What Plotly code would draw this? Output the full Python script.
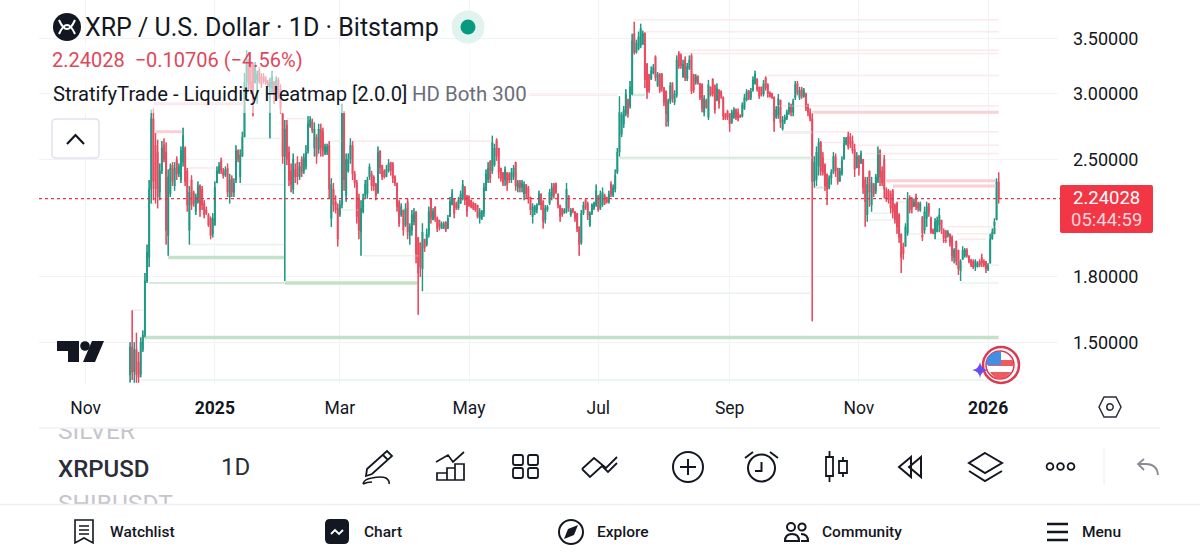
import pandas as pd
import plotly.graph_objects as go

opens = [
    1.37,1.48,1.38,1.47,1.42,1.37,1.47,1.53,1.78,1.90,
    2.30,2.80,2.60,2.55,2.28,2.42,2.60,2.55,2.02,2.27,
    2.46,2.32,2.50,2.40,2.36,2.48,2.58,2.42,2.05,2.36,
    2.28,2.16,2.22,2.32,2.30,2.21,2.17,2.14,2.12,2.03,
    2.08,2.34,2.41,2.49,2.42,2.39,2.44,2.25,2.37,2.28,
    2.36,2.56,2.38,2.52,2.66,3.10,3.30,3.10,3.25,3.10,
    3.12,3.20,3.15,3.15,3.13,3.10,3.06,3.05,3.10,3.04,
    3.12,3.04,2.84,2.52,2.75,2.55,2.42,2.30,2.43,2.48,
    2.38,2.50,2.42,2.45,2.56,2.74,2.78,2.58,2.66,2.57,
    2.72,2.70,2.54,2.55,2.60,2.12,2.30,2.22,2.18,2.14,
    2.20,2.84,2.26,2.42,2.50,2.60,2.40,2.34,2.24,2.04,
    2.16,2.26,2.27,2.38,2.40,2.38,2.33,2.28,2.56,2.46,
    2.42,2.38,2.42,2.48,2.47,2.38,2.34,2.22,2.14,2.17,
    2.08,2.22,2.02,2.05,2.10,2.16,2.01,1.98,1.84,2.00,
    1.97,2.03,2.24,2.11,2.19,2.12,2.11,2.06,2.06,2.10,
    2.06,2.13,2.20,2.24,2.21,2.18,2.21,2.24,2.31,2.26,
    2.25,2.23,2.21,2.21,2.20,2.12,2.12,2.15,2.29,2.36,
    2.49,2.42,2.46,2.64,2.58,2.44,2.41,2.36,2.41,2.40,
    2.36,2.38,2.48,2.31,2.35,2.31,2.27,2.33,2.31,2.25,
    2.13,2.16,2.17,2.20,2.27,2.22,2.11,2.17,2.21,2.25,
    2.33,2.34,2.27,2.20,2.18,2.15,2.16,2.26,2.14,2.18,
    2.16,2.15,2.07,1.98,2.15,2.23,2.21,2.08,2.15,2.18,
    2.20,2.26,2.18,2.20,2.26,2.25,2.22,2.33,2.26,2.30,
    2.41,2.55,2.68,2.76,2.84,2.95,2.90,3.00,3.55,3.37,
    3.40,3.43,3.45,3.56,3.26,3.17,3.13,3.18,3.33,3.07,
    3.17,3.17,3.05,3.02,2.78,2.94,3.09,2.93,2.99,3.36,
    3.34,3.15,3.30,3.13,3.22,3.34,3.17,3.10,3.15,3.09,
    3.08,2.85,2.95,2.81,3.06,3.13,3.07,2.95,3.03,3.02,
    2.97,2.84,2.86,2.84,2.77,2.81,2.87,2.85,2.83,2.82,
    2.88,2.95,3.03,2.97,3.03,3.09,3.13,3.06,3.06,3.00,
    3.14,3.08,3.01,3.00,2.97,2.81,2.83,2.95,2.72,2.78,
    2.80,2.85,2.91,2.85,2.97,3.09,2.97,3.04,2.98,3.00,
    2.90,2.85,2.80,2.35,2.36,2.45,2.62,2.51,2.46,2.40,
    2.31,2.37,2.41,2.52,2.44,2.35,2.40,2.50,2.61,2.67,
    2.66,2.63,2.57,2.44,2.52,2.47,2.50,2.36,2.14,2.42,
    2.20,2.33,2.29,2.35,2.56,2.42,2.50,2.30,2.29,2.27,
    2.29,2.20,2.21,2.14,2.03,1.96,1.96,2.03,2.25,2.24,
    2.19,2.25,2.21,2.17,2.13,2.05,2.12,2.21,2.12,2.05,
    2.03,2.04,2.08,2.11,2.05,2.05,2.02,2.03,2.01,1.90,
    1.99,1.94,1.83,1.89,1.91,1.94,1.91,1.89,1.88,1.85,
    1.85,1.88,1.90,1.88,1.88,1.84,1.87,2.00,2.03,2.11,2.34734,
]
highs = [
    1.50,1.64,1.50,1.54,1.46,1.52,1.55,1.82,1.97,2.36,
    2.87,2.88,2.69,2.64,2.47,2.63,2.65,2.62,2.43,2.47,
    2.48,2.48,2.52,2.47,2.59,2.73,2.59,2.44,2.32,2.39,
    2.29,2.27,2.35,2.33,2.32,2.23,2.19,2.15,2.13,2.15,
    2.35,2.45,2.48,2.51,2.44,2.45,2.47,2.40,2.39,2.37,
    2.60,2.57,2.57,2.70,3.18,3.39,3.30,3.28,3.27,3.28,
    3.20,3.23,3.18,3.18,3.15,3.12,3.14,3.20,3.11,3.15,
    3.14,3.08,2.84,2.79,2.79,2.59,2.47,2.54,2.47,2.52,
    2.48,2.52,2.54,2.60,2.82,2.82,2.80,2.77,2.68,2.76,
    2.76,2.73,2.61,2.61,2.63,2.37,2.34,2.26,2.21,2.23,
    2.92,2.86,2.54,2.54,2.65,2.63,2.42,2.36,2.27,2.23,
    2.27,2.36,2.38,2.47,2.42,2.39,2.34,2.59,2.56,2.46,
    2.43,2.46,2.50,2.48,2.48,2.39,2.34,2.23,2.21,2.17,
    2.21,2.24,2.09,2.17,2.18,2.16,2.01,1.98,2.09,2.00,
    2.06,2.19,2.24,2.18,2.19,2.13,2.11,2.10,2.10,2.10,
    2.14,2.25,2.30,2.24,2.22,2.25,2.29,2.36,2.32,2.26,
    2.26,2.23,2.22,2.21,2.20,2.18,2.17,2.34,2.43,2.48,
    2.49,2.67,2.61,2.65,2.58,2.44,2.41,2.45,2.41,2.41,
    2.44,2.46,2.48,2.36,2.36,2.36,2.35,2.33,2.32,2.25,
    2.21,2.20,2.21,2.29,2.27,2.23,2.20,2.20,2.30,2.34,
    2.34,2.34,2.27,2.20,2.18,2.18,2.34,2.26,2.18,2.18,
    2.16,2.15,2.07,2.17,2.22,2.24,2.22,2.16,2.21,2.22,
    2.33,2.26,2.29,2.31,2.27,2.25,2.29,2.35,2.33,2.43,
    2.58,2.98,2.85,2.90,3.04,2.96,3.11,3.55,3.67,3.49,
    3.57,3.65,3.58,3.56,3.27,3.17,3.24,3.26,3.34,3.19,
    3.18,3.18,3.06,3.03,2.96,3.10,3.10,3.03,3.34,3.38,
    3.36,3.30,3.33,3.27,3.34,3.36,3.17,3.17,3.16,3.09,
    3.09,2.99,2.96,3.12,3.06,3.13,3.08,3.09,3.04,3.03,
    2.98,2.84,2.87,2.84,2.87,2.89,2.88,2.88,2.83,2.93,
    3.00,3.04,3.03,3.05,3.15,3.20,3.13,3.06,3.06,3.12,
    3.15,3.09,3.02,3.01,2.98,2.90,3.00,2.95,2.82,2.83,
    2.87,2.93,2.92,2.96,3.11,3.11,3.06,3.06,3.05,3.01,
    2.92,2.88,2.84,2.52,2.59,2.65,2.63,2.55,2.47,2.40,
    2.39,2.43,2.55,2.54,2.44,2.44,2.52,2.66,2.66,2.70,
    2.69,2.67,2.61,2.55,2.53,2.56,2.50,2.38,2.38,2.42,
    2.38,2.34,2.40,2.59,2.57,2.45,2.53,2.31,2.30,2.29,
    2.30,2.21,2.22,2.15,2.03,1.98,2.09,2.28,2.26,2.25,
    2.24,2.27,2.22,2.22,2.13,2.19,2.22,2.21,2.13,2.06,
    2.12,2.13,2.18,2.11,2.06,2.05,2.05,2.03,2.02,1.95,
    1.99,1.94,1.89,1.96,1.95,1.95,1.91,1.89,1.89,1.89,
    1.88,1.89,1.92,1.89,1.88,1.87,2.03,2.06,2.12,2.37,2.41,
]
lows = [
    1.34,1.35,1.34,1.34,1.34,1.36,1.46,1.52,1.77,1.85,
    2.21,2.23,2.21,2.18,2.23,2.40,2.48,1.97,1.91,2.25,
    2.32,2.29,2.36,2.38,2.34,2.45,2.32,2.16,1.97,2.17,
    2.19,2.14,2.21,2.13,2.17,2.12,2.14,2.07,2.00,2.01,
    2.08,2.34,2.40,2.40,2.37,2.38,2.25,2.21,2.25,2.25,
    2.34,2.48,2.34,2.52,2.66,3.00,3.03,3.00,2.82,3.09,
    2.92,3.09,3.05,3.09,3.08,3.06,2.65,3.00,2.92,3.03,
    2.96,2.84,2.47,1.78,2.46,2.32,2.28,2.27,2.34,2.33,
    2.36,2.38,2.40,2.43,2.54,2.73,2.69,2.52,2.47,2.54,
    2.52,2.52,2.53,2.53,2.24,2.07,2.16,2.15,1.96,2.13,
    2.18,2.29,2.22,2.41,2.47,2.36,2.31,2.09,2.00,1.91,
    2.15,2.24,2.24,2.36,2.29,2.29,2.23,2.27,2.40,2.36,
    2.37,2.38,2.41,2.39,2.34,2.32,2.16,2.07,2.13,2.02,
    2.07,2.00,1.97,2.02,2.08,1.87,1.62,1.80,1.73,1.93,
    1.96,2.01,2.09,2.11,2.10,2.04,2.05,2.06,2.06,2.04,
    2.06,2.13,2.20,2.12,2.17,2.17,2.21,2.23,2.20,2.13,
    2.19,2.18,2.17,2.16,2.12,2.09,2.11,2.13,2.29,2.34,
    2.34,2.40,2.45,2.49,2.37,2.35,2.32,2.32,2.29,2.34,
    2.34,2.36,2.29,2.28,2.28,2.28,2.23,2.24,2.21,2.14,
    2.09,2.14,2.15,2.20,2.17,2.06,2.09,2.16,2.20,2.23,
    2.24,2.27,2.18,2.10,2.13,2.15,2.15,2.16,2.13,2.15,
    2.10,2.04,1.91,1.97,2.14,2.17,2.11,2.07,2.14,2.17,
    2.19,2.16,2.17,2.19,2.20,2.21,2.21,2.25,2.25,2.28,
    2.40,2.52,2.66,2.73,2.82,2.81,2.88,2.99,3.35,3.36,
    3.39,3.41,3.44,3.05,2.96,3.01,3.12,3.17,3.11,3.06,
    3.01,3.02,2.90,2.74,2.74,2.92,2.93,2.91,2.97,3.22,
    3.22,3.14,3.11,3.11,3.21,3.00,3.01,3.08,3.08,2.95,
    2.85,2.82,2.88,2.79,2.98,2.98,2.84,2.94,2.88,2.96,
    2.79,2.79,2.79,2.70,2.76,2.80,2.79,2.78,2.81,2.81,
    2.87,2.94,2.95,2.95,3.02,3.08,3.02,2.96,2.98,2.98,
    3.03,2.97,2.97,2.96,2.70,2.80,2.80,2.73,2.71,2.76,
    2.79,2.83,2.82,2.82,2.95,2.99,2.95,2.96,2.97,2.86,
    2.82,2.78,1.59,2.31,2.32,2.39,2.39,2.39,2.29,2.20,
    2.30,2.33,2.40,2.38,2.33,2.35,2.39,2.50,2.60,2.57,
    2.58,2.54,2.38,2.44,2.39,2.47,2.27,2.07,2.10,2.19,
    2.16,2.25,2.27,2.34,2.32,2.32,2.24,2.22,2.21,2.15,
    2.12,2.09,2.03,1.98,1.82,1.89,1.96,2.02,2.15,2.15,
    2.19,2.17,2.16,2.16,1.99,2.03,2.07,2.13,2.03,2.03,
    2.00,2.04,2.04,2.03,1.98,1.98,2.01,1.96,1.88,1.87,
    1.86,1.81,1.78,1.89,1.90,1.90,1.87,1.85,1.84,1.83,
    1.85,1.85,1.85,1.85,1.82,1.83,1.87,2.00,2.03,2.11,2.21,
]
closes = [
    1.48,1.38,1.47,1.37,1.36,1.50,1.53,1.78,1.93,2.30,
    2.80,2.35,2.30,2.25,2.42,2.58,2.50,2.05,2.38,2.44,
    2.35,2.44,2.40,2.45,2.56,2.67,2.35,2.20,2.28,2.20,
    2.21,2.25,2.32,2.17,2.20,2.14,2.15,2.08,2.02,2.12,
    2.31,2.42,2.45,2.42,2.39,2.43,2.28,2.36,2.28,2.34,
    2.56,2.50,2.53,2.66,3.10,3.30,3.08,3.05,3.02,3.25,
    3.17,3.11,3.08,3.11,3.09,3.07,3.10,3.15,3.00,3.12,
    3.00,2.88,2.52,2.72,2.50,2.36,2.33,2.50,2.38,2.38,
    2.45,2.41,2.51,2.55,2.76,2.80,2.71,2.72,2.52,2.72,
    2.58,2.56,2.59,2.59,2.30,2.33,2.20,2.17,2.00,2.20,
    2.84,2.36,2.50,2.50,2.60,2.40,2.34,2.13,2.05,2.18,
    2.24,2.33,2.36,2.45,2.32,2.32,2.26,2.55,2.44,2.38,
    2.38,2.43,2.47,2.42,2.37,2.34,2.19,2.09,2.19,2.05,
    2.18,2.04,2.07,2.14,2.15,1.92,1.82,1.85,2.04,1.95,
    2.03,2.16,2.12,2.16,2.12,2.06,2.07,2.09,2.09,2.05,
    2.12,2.22,2.27,2.15,2.18,2.23,2.27,2.33,2.23,2.16,
    2.20,2.19,2.18,2.17,2.13,2.16,2.16,2.31,2.40,2.44,
    2.37,2.62,2.58,2.52,2.41,2.37,2.34,2.43,2.33,2.36,
    2.41,2.44,2.32,2.34,2.31,2.34,2.33,2.27,2.24,2.17,
    2.19,2.19,2.20,2.27,2.20,2.10,2.18,2.19,2.28,2.31,
    2.26,2.28,2.20,2.13,2.14,2.17,2.30,2.18,2.17,2.16,
    2.12,2.06,1.97,2.15,2.20,2.18,2.14,2.15,2.20,2.21,
    2.29,2.17,2.27,2.28,2.21,2.22,2.27,2.27,2.31,2.39,
    2.55,2.85,2.83,2.87,3.00,2.84,3.06,3.48,3.37,3.46,
    3.52,3.60,3.55,3.12,3.02,3.03,3.20,3.23,3.14,3.17,
    3.03,3.05,2.93,2.84,2.94,3.07,2.96,3.00,3.30,3.24,
    3.25,3.26,3.14,3.24,3.30,3.02,3.03,3.15,3.09,2.97,
    2.88,2.96,2.89,3.08,2.99,3.00,2.87,3.05,2.92,2.98,
    2.82,2.80,2.81,2.76,2.85,2.87,2.81,2.80,2.81,2.91,
    2.97,3.02,2.96,3.02,3.12,3.17,3.04,2.98,2.99,3.09,
    3.05,3.00,2.98,2.97,2.78,2.87,2.96,2.77,2.79,2.81,
    2.85,2.90,2.85,2.94,3.08,3.01,3.03,2.98,3.03,2.88,
    2.85,2.80,2.35,2.48,2.55,2.62,2.42,2.41,2.32,2.30,
    2.37,2.41,2.52,2.42,2.35,2.42,2.49,2.63,2.65,2.59,
    2.61,2.56,2.43,2.52,2.44,2.54,2.31,2.22,2.33,2.28,
    2.34,2.27,2.38,2.55,2.38,2.34,2.30,2.24,2.23,2.18,
    2.16,2.11,2.07,2.01,1.90,1.92,2.07,2.24,2.17,2.18,
    2.22,2.19,2.18,2.21,2.01,2.16,2.19,2.15,2.04,2.03,
    2.10,2.11,2.14,2.05,1.99,1.99,2.04,1.98,1.91,1.94,
    1.88,1.84,1.88,1.94,1.94,1.91,1.88,1.86,1.85,1.88,
    1.87,1.86,1.87,1.86,1.84,1.86,2.00,2.04,2.10,2.34734,2.24028,
]

dates = pd.date_range("2024-11-22", periods=len(closes)).strftime("%Y-%m-%d").tolist()

# heatmap levels: first candle, last candle, price
sell_strong = [(11,54,2.92), (12,25,2.70), (322,410,2.85), (356,409,2.355), (360,409,2.32)]
sell_weak = [
    (74,85,2.80), (95,100,2.63), (27,40,2.44), (105,171,2.63), (151,230,2.99),
    (238,410,3.69), (243,410,3.57), (265,410,3.39), (260,410,3.36), (300,410,3.16),
    (304,410,2.90), (308,410,2.70), (342,410,2.60), (347,410,2.54), (327,337,2.62),
    (362,366,2.22), (386,410,2.07), (390,405,2.03), (391,404,2.00), (1,6,1.64),
]
buy_strong = [(18,73,1.90), (73,136,1.77), (7,410,1.52)]
buy_mid = [(9,73,1.77), (231,322,2.51), (237,243,2.99), (323,328,2.31), (10,11,2.21)]
buy_weak = [
    (5,410,1.35), (28,73,1.97), (52,73,2.33), (54,72,2.65), (100,108,2.17),
    (110,136,1.91), (138,322,1.72), (308,322,2.69), (350,359,2.15), (348,360,2.11),
    (367,378,2.03), (380,386,2.00), (405,410,1.86), (409,410,2.09), (392,410,1.77),
]

price_ticks = [1.5, 1.8, 2.5, 3.0, 3.5]
price_labels = ["1.50000", "1.80000", "2.50000", "3.00000", "3.50000"]
month_ticks = ["2024-11-01", "2025-01-01", "2025-03-01", "2025-05-01", "2025-07-01", "2025-09-01", "2025-11-01", "2026-01-01"]
month_labels = ["Nov", "<b>2025</b>", "Mar", "May", "Jul", "Sep", "Nov", "<b>2026</b>"]
last_price = 2.24028

GREEN = "#1f9984"
RED = "#e84a5f"
INK = "#131722"
GRID = "#f1f3f7"

fig = go.Figure()


def add_levels(levels, color, width):
    xs, ys = [], []
    for start, end, price in levels:
        xs += [dates[start], dates[end], None]
        ys += [price, price, None]
    fig.add_trace(go.Scatter(x=xs, y=ys, mode="lines", line=dict(color=color, width=width), hoverinfo="skip"))


def add_wicks(rising, color):
    # plotly's whiskers are hairlines at this zoom, so redraw them heavier
    xs, ys = [], []
    for d, o, h, l, c in zip(dates, opens, highs, lows, closes):
        if (c >= o) == rising:
            xs += [d, d, None]
            ys += [l, h, None]
    fig.add_trace(go.Scatter(x=xs, y=ys, mode="lines", line=dict(color=color, width=1.4), hoverinfo="skip"))


add_levels(buy_weak, "#e9f3ec", 1.5)
add_levels(sell_weak, "#fbe9eb", 1.5)
add_levels(buy_mid, "#d6ead9", 2)
add_levels(buy_strong, "#c4e2c8", 3.5)
add_levels(sell_strong, "#f8d0d5", 3)

fig.add_trace(go.Candlestick(
    x=dates, open=opens, high=highs, low=lows, close=closes,
    increasing=dict(line=dict(color=GREEN, width=0.9), fillcolor=GREEN),
    decreasing=dict(line=dict(color=RED, width=0.9), fillcolor=RED),
    whiskerwidth=0, hoverinfo="skip",
))
add_wicks(False, RED)
add_wicks(True, GREEN)

# watchlist strip, clipped by its own axes like the scrolling list in the app
fig.add_trace(go.Scatter(
    x=[58, 58], y=[433, 506], mode="text", text=["SILVER", "SHIBUSDT"], textposition="middle right",
    textfont=dict(family="Roboto", size=24.5, color="#c4c6cc"), xaxis="x2", yaxis="y2", hoverinfo="skip",
))
# full window axes in pixels for the app furniture
fig.add_trace(go.Scatter(x=[0], y=[0], mode="markers", marker=dict(opacity=0), xaxis="x3", yaxis="y3", hoverinfo="skip"))

shapes = []


def draw(path, color="#131722", width=2, fill=None):
    shapes.append(dict(type="path", path=path, xref="x3", yref="y3", layer="above",
                       line=dict(color=color, width=width), fillcolor=fill or "rgba(0,0,0,0)"))


def circle(cx, cy, r, color="#131722", width=2, fill=None):
    shapes.append(dict(type="circle", x0=cx - r, x1=cx + r, y0=cy - r, y1=cy + r, xref="x3", yref="y3", layer="above",
                       line=dict(color=color, width=width), fillcolor=fill or "rgba(0,0,0,0)"))


def box(x0, y0, x1, y1, fill, color=None, width=0):
    shapes.append(dict(type="rect", x0=x0, x1=x1, y0=y0, y1=y1, xref="x3", yref="y3", layer="above",
                       line=dict(color=color or fill, width=width), fillcolor=fill))


def label(x, y, text, size=16, color=INK, anchor="left", weight=400):
    # annotations sit about 2px inside their anchor
    shift = -2 if anchor == "left" else 0
    fig.add_annotation(x=x + shift, y=y, xref="x3", yref="y3", text=text, showarrow=False, xanchor=anchor, yanchor="middle",
                       font=dict(family="Roboto", size=size, color=color, weight=weight))


# legend veil over the candles
box(50, 45, 530, 113, "rgba(255,255,255,0.55)")

# last price line and tag
shapes.append(dict(type="line", xref="paper", yref="y", x0=39 / 1200, x1=1060 / 1200, y0=last_price, y1=last_price,
                   line=dict(color="#d8394c", width=1.2, dash="dot"), layer="above"))
draw("M1062 185 H1151 Q1153 185 1153 187 V231 Q1153 233 1151 233 H1062 Q1060 233 1060 231 V187 Q1060 185 1062 185 Z",
     color="#f23645", width=0, fill="#f23645")
label(1106.5, 198, "2.24028", 18.5, "#ffffff", "center")
label(1106.5, 220, "05:44:59", 18.5, "#fbd5d9", "center")

# header
circle(67, 27, 14, "#131722", 0, "#131722")
draw("M59 20 Q67 38 75 20 M59 34 Q67 16 75 34", "#ffffff", 2)
label(85, 27, "XRP / U.S. Dollar · 1D · Bitstamp", 25)
circle(468, 27, 16.5, "#e1f3ef", 0, "#e1f3ef")
circle(468, 27, 7.5, "#089981", 0, "#089981")
label(52, 60, "2.24028\u00a0\u00a0−0.10706 (−4.56%)", 20, "#e0485a")
label(53, 94, "StratifyTrade - Liquidity Heatmap [2.0.0]", 20.2)
label(412, 94, "HD Both 300", 20.4, "#6a6d78")
draw("M56 119 H95 Q99 119 99 123 V154 Q99 158 95 158 H56 Q52 158 52 154 V123 Q52 119 56 119 Z", "#e0e3eb", 1.5, "#ffffff")
draw("M67 144 L75.5 135 L84 144", "#131722", 2.2)

# chart logo and badge
draw("M57 341 H79 V362 H68 V351 H57 Z", "#131722", 0, "#131722")
circle(85, 346, 4.8, "#131722", 0, "#131722")
draw("M92 341 H104 L95 362 H83 Z", "#131722", 0, "#131722")
circle(1001, 365, 18, "#dc3a4e", 2.5, "#ffffff")
circle(1000, 365, 14, "#dc3a4e", 1.5, "#ffffff")
draw("M988 360 H1013 V366 H988 Z M990 372 H1011 Q1006 379 1000 379 Q994 379 990 372 Z", "#ee5a5f", 0, "#ee5a5f")
draw("M987 359 Q990 352 1001 351 V365 H986 Z", "#3f8fe8", 0, "#3f8fe8")
draw("M980 362 Q981 369 988 370 Q981 371 980 378 Q979 371 972 370 Q979 369 980 362 Z", "#6a4bf0", 0, "#6a4bf0")

# axis settings hexagon
draw("M1099 407 L1104 397 H1116 L1121 407 L1116 417 H1104 Z", "#2a2e39", 1.5)
circle(1110, 407, 3.2, "#2a2e39", 1.5)

# dividers
draw("M39 428 H1160", "#eef0f3", 1.5)
draw("M0 504.5 H1200", "#eef0f3", 1.5)
draw("M1104 448 V485", "#eceef1", 1)

# toolbar
label(58, 469, "XRPUSD", 24, "#2a2e39", weight=500)
label(235, 467, "1D", 24, "#2a2e39", "center")
draw("M367 469 L387 451 L392 456 L372 474 L366 476 Z M383 455 L388 460", width=1.8)
draw("M363 484 Q364 479 372 478 Q381 476 386 478 Q390 481 389 484 M363 484 Q367 482 372 482", width=1.6)
draw("M436 462 L448 455 L453 462 L464 452 M437 473 H447 V480 H437 Z M447 468 H455 V480 H447 Z M455 464 H464 V480 H455 Z", width=1.7)
for x, y in [(513, 455), (528, 455), (513, 468), (528, 468)]:
    draw(f"M{x + 2} {y} H{x + 8} Q{x + 10} {y} {x + 10} {y + 2} V{y + 8} Q{x + 10} {y + 10} {x + 8} {y + 10} H{x + 2} Q{x} {y + 10} {x} {y + 8} V{y + 2} Q{x} {y} {x + 2} {y} Z", width=1.8)
draw("M582 469 L594 458 L606 468 L617 457 M582 469 L590 477 L602 466 L608 472 L617 463", width=1.8)
circle(688, 467, 15, width=2)
draw("M680 467 H696 M688 459 V475", width=2)
circle(761.5, 468, 13.5, width=2)
draw("M761.5 462 V471 H755 M745 458 L753 452 M778 458 L770 452", width=2)
draw("M826 457 H833 V476 H826 Z M829.5 451 V457 M829.5 476 V482 M839 461 H847 V473 H839 Z M843 457 V461 M843 473 V477", width=1.8)
draw("M911 457 L899 467 L911 477 Z M921 457 L909 467 L921 477 Z", width=2)
draw("M985 453 L1002 463 L985 473 L969 463 Z M969 471 L985 481 L1002 471", width=2)
for x in [1050, 1060.5, 1071]:
    circle(x, 466.5, 3.4, width=1.8)
draw("M1158 475 Q1157 464 1146 464 H1139 M1144 459 L1138 464 L1144 470", "#8a8d94", 1.8)

# bottom navigation
draw("M75 520 H93 V543 L84 538 L75 543 Z M79 526 H89 M79 530 H89 M79 534 H89", width=1.6)
label(110, 532, "Watchlist", 15.5, weight=500)
draw("M330 519 H344 Q349 519 349 524 V539 Q349 544 344 544 H330 Q325 544 325 539 V524 Q325 519 330 519 Z", width=0, fill="#131722")
draw("M331 534 L335 530 L339 534 L343 530", "#ffffff", 1.8)
label(364, 532, "Chart", 15.5, weight=500)
circle(571, 532, 12, width=2)
draw("M578 525 L574 535 L564 539 L568 529 Z", width=0, fill="#131722")
label(597, 532, "Explore", 15.5, weight=500)
circle(791, 527, 4, width=2)
circle(802, 527, 3.6, width=2)
draw("M785 541 Q785 534 792 534 Q799 534 799 541 Z M801 534 Q808 534 808 541 H801", width=2)
label(822, 532, "Community", 15.5, weight=500)
draw("M1047 524 H1068 M1047 532 H1068 M1047 540 H1068", width=2.6)
label(1082, 532, "Menu", 15.5, weight=500)

fig.update_layout(
    width=1200, height=560, margin=dict(l=0, r=0, t=0, b=0),
    paper_bgcolor="#ffffff", plot_bgcolor="rgba(0,0,0,0)", showlegend=False, hovermode=False,
    font=dict(family="Roboto", color=INK),
    shapes=shapes,
    xaxis=dict(
        domain=[39 / 1200, 1058 / 1200], type="date", range=["2024-10-10", "2026-02-03"],
        tickmode="array", tickvals=month_ticks, ticktext=month_labels, ticks="", ticklabelstandoff=11,
        tickfont=dict(family="Roboto", size=17.5, color=INK), showgrid=True, gridcolor=GRID, gridwidth=1,
        zeroline=False, showline=False, rangeslider=dict(visible=False), fixedrange=True,
    ),
    yaxis=dict(
        domain=[1 - 384 / 560, 1], type="log", range=[0.1254, 0.5911], side="right",
        tickmode="array", tickvals=price_ticks, ticktext=price_labels, ticks="", ticklabelstandoff=14,
        tickfont=dict(family="Roboto", size=18, color=INK), showgrid=True, gridcolor=GRID, gridwidth=1,
        zeroline=False, showline=False, fixedrange=True,
    ),
    xaxis2=dict(domain=[0, 1], range=[0, 1200], visible=False, fixedrange=True, anchor="y2"),
    yaxis2=dict(domain=[1 - 504 / 560, 1 - 428 / 560], range=[504, 428], visible=False, fixedrange=True, anchor="x2"),
    xaxis3=dict(domain=[0, 1], range=[0, 1200], visible=False, fixedrange=True, anchor="y3"),
    yaxis3=dict(domain=[0, 1], range=[560, 0], visible=False, fixedrange=True, anchor="x3"),
)

fig.write_html("out.html", config={"displayModeBar": False}, post_script="document.body.style.margin='0'")
